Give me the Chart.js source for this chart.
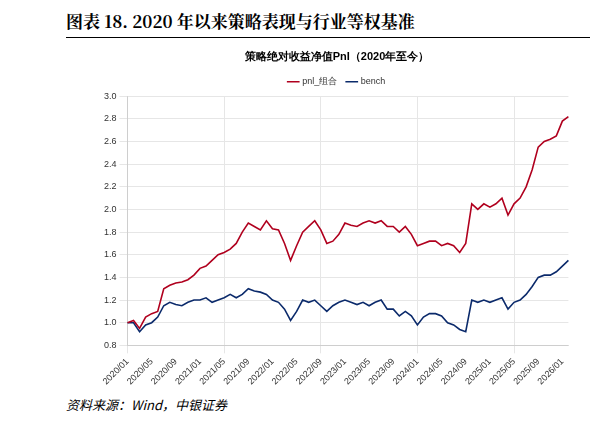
<!DOCTYPE html>
<html><head><meta charset="utf-8">
<script src="https://cdn.jsdelivr.net/npm/chart.js@4"></script>
<style>
body{margin:0;width:614px;height:421px;background:#fff;position:relative;overflow:hidden;font-family:"Noto Sans CJK SC",sans-serif}
#hd{position:absolute;left:66px;top:8px;width:524px;font-family:"Noto Serif CJK SC","Noto Sans CJK SC",serif;font-weight:bold;font-size:17px;border-bottom:1px solid #000;padding-bottom:4px}
#ft{position:absolute;left:66px;top:393px;width:524px;font-style:italic;font-size:13px;padding-top:2px}
#box{position:absolute;left:101px;top:48px;width:472px;height:342px}
</style></head><body>
<div id="hd">图表 18. 2020 年以来策略表现与行业等权基准</div>
<div id="box"><canvas id="c"></canvas></div>
<div id="ft">资料来源：Wind，中银证券</div>
<script>
// monthly labels 2020/01 .. 2026/02
const labels = [];
for (let y = 2020; y <= 2026; y++) for (let m = 1; m <= 12; m++) {
  if (y === 2026 && m > 2) break;
  labels.push(y + '/' + String(m).padStart(2, '0'));
}
const pnl = [1.0,1.02,0.95,1.05,1.08,1.1,1.3,1.33,1.35,1.36,1.38,1.42,
  1.48,1.5,1.55,1.6,1.62,1.65,1.7,1.8,1.88,1.85,1.82,1.9,
  1.83,1.82,1.7,1.55,1.68,1.8,1.85,1.9,1.82,1.7,1.72,1.78,
  1.88,1.86,1.85,1.88,1.9,1.88,1.9,1.85,1.85,1.8,1.85,1.78,
  1.68,1.7,1.72,1.72,1.68,1.7,1.68,1.62,1.7,2.05,2.0,2.05,
  2.02,2.05,2.1,1.95,2.05,2.1,2.2,2.35,2.55,2.6,2.62,2.65,
  2.78,2.82];
const bench = [1.0,1.0,0.92,0.98,1.0,1.05,1.15,1.18,1.16,1.15,1.18,1.2,
  1.2,1.22,1.18,1.2,1.22,1.25,1.22,1.25,1.3,1.28,1.27,1.25,
  1.2,1.18,1.12,1.02,1.1,1.2,1.18,1.2,1.15,1.1,1.15,1.18,
  1.2,1.18,1.16,1.18,1.15,1.18,1.2,1.12,1.12,1.06,1.1,1.06,
  0.98,1.05,1.08,1.08,1.06,1.0,0.98,0.94,0.92,1.2,1.18,1.2,
  1.18,1.2,1.22,1.12,1.18,1.2,1.25,1.32,1.4,1.42,1.42,1.45,
  1.5,1.55];

new Chart(document.getElementById('c'), {
  type: 'line',
  data: {
    labels: labels,
    datasets: [
      {label: 'pnl_组合', data: pnl, borderColor: '#b0001e', backgroundColor: '#b0001e', borderWidth: 1.6, pointRadius: 0, tension: 0},
      {label: 'bench', data: bench, borderColor: '#0b2a6b', backgroundColor: '#0b2a6b', borderWidth: 1.6, pointRadius: 0, tension: 0}
    ]
  },
  options: {
    animation: false,
    responsive: true,
    maintainAspectRatio: false,
    plugins: {
      title: {display: true, text: '策略绝对收益净值PnI（2020年至今）', font: {size: 11, weight: 'bold'}, color: '#000', padding: {top: 2, bottom: 4}},
      legend: {labels: {usePointStyle: true, pointStyle: 'line', boxWidth: 30, font: {size: 9}, color: '#333'}}
    },
    scales: {
      y: {min: 0.8, max: 3.0, ticks: {stepSize: 0.2, font: {size: 9}, color: '#333', callback: v => v.toFixed(1)}, grid: {color: '#e6e6e6'}},
      x: {ticks: {autoSkip: false, maxRotation: 45, minRotation: 45, font: {size: 9}, color: '#333',
            callback: (v, i) => i % 4 === 0 ? labels[i] : null},
          grid: {color: (ctx) => ctx.index % 4 === 0 ? '#e6e6e6' : 'rgba(0,0,0,0)'}}
    }
  }
});
</script>
</body></html>
